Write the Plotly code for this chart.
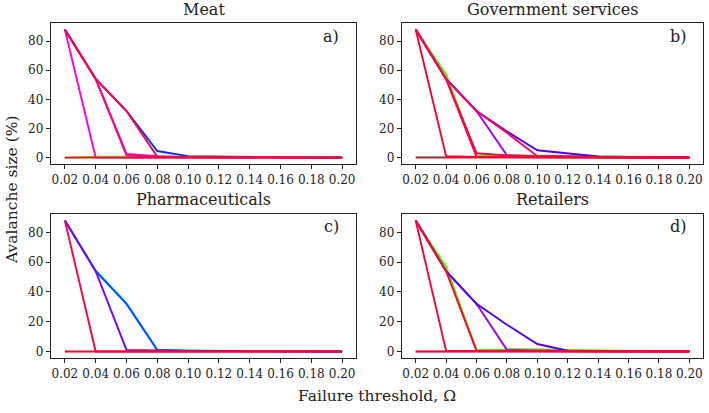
import plotly.graph_objects as go

thresholds = [0.02, 0.04, 0.06, 0.08, 0.10, 0.12, 0.14, 0.16, 0.18, 0.20]
x_ticks = [0.02, 0.04, 0.06, 0.08, 0.10, 0.12, 0.14, 0.16, 0.18, 0.20]
y_ticks = [0, 20, 40, 60, 80]

panel_titles = ["Meat", "Government services", "Pharmaceuticals", "Retailers"]
panel_letters = ["a)", "b)", "c)", "d)"]

# Meat
meat_colors = ["#40ff00", "#0030ff", "#ff00e0", "#ff00b0", "#ff0080", "#ff0040", "#ff0030"]
meat_values = [
    [0.0, 0.6, 0.6, 0.6, 0.6, 0.5, 0.3, 0.2, 0.1, 0.1],
    [88, 54, 32, 4.5, 1.0, 0.6, 0.4, 0.2, 0.1, 0.1],
    [88, 0, 0, 0, 0, 0, 0, 0, 0, 0],
    [88, 54, 2.5, 1.0, 0.5, 0.3, 0.2, 0.1, 0.1, 0.0],
    [88, 54, 1.5, 0.6, 0.3, 0.2, 0.1, 0.1, 0.0, 0.0],
    [88, 54, 32, 0.6, 0.2, 0.1, 0.0, 0.0, 0.0, 0.0],
    [0, 0, 0, 0, 0, 0, 0, 0, 0, 0],
]

# Government services
gov_colors = ["#00ffc0", "#40ff00", "#a000ff", "#5000ff", "#ff0060", "#ff0040", "#ff0030", "#ff0050", "#ff0030"]
gov_values = [
    [0.5, 0.5, 0, 0, 0, 0, 0, 0, 0, 0],
    [88, 57, 1.5, 1.5, 1.5, 1.2, 0.8, 0.5, 0.3, 0.2],
    [88, 54, 32, 1.5, 1.0, 0.6, 0.4, 0.2, 0.1, 0.1],
    [88, 54, 32, 18, 5, 3, 0.8, 0.5, 0.2, 0.1],
    [88, 54, 32, 17, 1.0, 0.5, 0.3, 0.2, 0.1, 0.0],
    [88, 54, 3.0, 1.5, 1.0, 0.5, 0.3, 0.2, 0.1, 0.0],
    [88, 1.0, 0.5, 0.3, 0.2, 0.1, 0.0, 0.0, 0.0, 0.0],
    [88, 54, 0.5, 0.3, 0.2, 0.1, 0.0, 0.0, 0.0, 0.0],
    [0, 0, 0, 0, 0, 0, 0, 0, 0, 0],
]

# Pharmaceuticals
pharma_colors = ["#00ffe0", "#0048ff", "#8000ff", "#ff0040", "#ff0030"]
pharma_values = [
    [88, 54.5, 32.5, 1.2, 0.6, 0.3, 0.2, 0.1, 0.1, 0.0],
    [88, 54, 32, 1.0, 0.5, 0.3, 0.2, 0.1, 0.0, 0.0],
    [88, 54, 1.0, 0.5, 0.3, 0.2, 0.1, 0.0, 0.0, 0.0],
    [88, 0, 0, 0, 0, 0, 0, 0, 0, 0],
    [0, 0, 0, 0, 0, 0, 0, 0, 0, 0],
]

# Retailers
retail_colors = ["#80d0ff", "#40ff00", "#80ff00", "#b000ff", "#5000ff", "#ff0040", "#ff0030", "#ff0030"]
retail_values = [
    [0, 0, 0, 0, 0, 0, 0, 0, 0, 0],
    [88, 57, 1.2, 1.0, 0.8, 0.6, 0.4, 0.2, 0.1, 0.1],
    [88, 54, 32, 1.8, 1.5, 1.0, 0.6, 0.4, 0.2, 0.1],
    [88, 54, 32, 1.0, 0.6, 0.3, 0.2, 0.1, 0.1, 0.0],
    [88, 54, 32, 18, 5, 0.5, 0.3, 0.2, 0.1, 0.1],
    [88, 0.5, 0.3, 0.2, 0.1, 0.0, 0.0, 0.0, 0.0, 0.0],
    [88, 54, 0.5, 0.3, 0.2, 0.1, 0.0, 0.0, 0.0, 0.0],
    [0, 0, 0, 0, 0, 0, 0, 0, 0, 0],
]

panels = [
    (meat_values, meat_colors),
    (gov_values, gov_colors),
    (pharma_values, pharma_colors),
    (retail_values, retail_colors),
]

W, H = 709, 413
# pixel boxes (left, right, top, bottom)
boxes = [(51, 356, 23, 164), (402, 703, 23, 164), (51, 356, 214, 358), (402, 703, 214, 358)]

FONT = "DejaVu Serif"
fig = go.Figure()
layout = {}
annotations = []
for i, ((vals, cols), box) in enumerate(zip(panels, boxes)):
    n = i + 1
    xa = "x" if n == 1 else f"x{n}"
    ya = "y" if n == 1 else f"y{n}"
    for v, c in zip(vals, cols):
        fig.add_trace(go.Scatter(x=thresholds, y=v, mode="lines", xaxis=xa, yaxis=ya,
                                 line=dict(color=c, width=1.9), showlegend=False,
                                 hoverinfo="skip"))
    l, r, t, b = box
    axis_common = dict(showline=True, mirror=True, linecolor="#222", linewidth=1.2,
                       ticks="outside", ticklen=4, tickwidth=1, tickcolor="#222",
                       showgrid=False, zeroline=False,
                       tickfont=dict(family=FONT, size=12, color="#222"))
    layout["xaxis" if n == 1 else f"xaxis{n}"] = dict(
        domain=[l / W, r / W], anchor=ya, range=[0.011, 0.209],
        tickvals=x_ticks, ticktext=[f"{t:.2f}" for t in x_ticks], **axis_common)
    layout["yaxis" if n == 1 else f"yaxis{n}"] = dict(
        domain=[1 - b / H, 1 - t / H], anchor=xa, range=[-4.4, 92.4],
        tickvals=y_ticks, **axis_common)
    annotations.append(dict(text=panel_titles[i], x=(l + r) / 2 / W, y=1 - (t - 14) / H,
                            xref="paper", yref="paper", showarrow=False,
                            font=dict(family=FONT, size=16, color="#222"),
                            xanchor="center", yanchor="middle"))
    annotations.append(dict(text=panel_letters[i], x=(r - 15) / W, y=1 - (t + 13) / H,
                            xref="paper", yref="paper", showarrow=False,
                            font=dict(family=FONT, size=16, color="#222"),
                            xanchor="right", yanchor="middle"))

annotations.append(dict(text="Failure threshold, Ω", x=377 / W, y=1 - 396 / H,
                        xref="paper", yref="paper", showarrow=False,
                        font=dict(family=FONT, size=15.5, color="#222"),
                        xanchor="center", yanchor="middle"))
annotations.append(dict(text="Avalanche size (%)", x=12 / W, y=1 - 190 / H,
                        xref="paper", yref="paper", showarrow=False, textangle=-90,
                        font=dict(family=FONT, size=15.5, color="#222"),
                        xanchor="center", yanchor="middle"))

fig.update_layout(width=W, height=H, margin=dict(l=0, r=0, t=0, b=0),
                  paper_bgcolor="white", plot_bgcolor="white",
                  annotations=annotations, **layout)
fig.write_html("out.html", config={"displayModeBar": False, "staticPlot": True},
               post_script="document.body.style.margin='0';document.body.style.padding='0';")
